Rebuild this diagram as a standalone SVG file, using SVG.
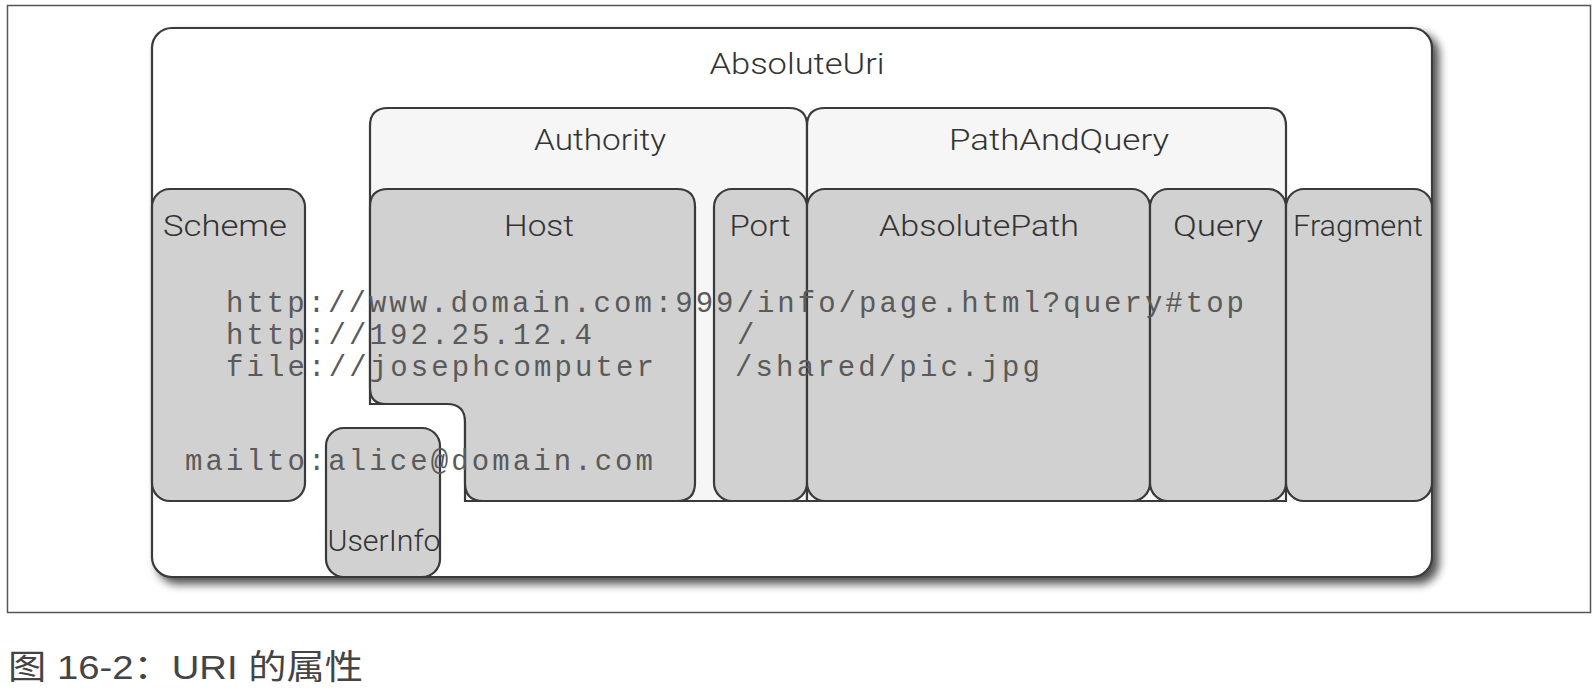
<svg xmlns="http://www.w3.org/2000/svg" width="1596" height="691" viewBox="0 0 1596 691">
<style>
.box{stroke:#3a3a3a;stroke-width:2.2}
.dark{fill:#d1d1d1}
.light{fill:#f6f6f6}
.lbl{font-family:Roboto,"Liberation Sans",Arial,sans-serif;font-weight:300;font-size:30px;fill:#333;text-anchor:middle}
.mono{font-family:"Liberation Mono","Courier New",monospace;font-size:29px;fill:#5a5a5a}
.cap{font-family:"Liberation Sans","Noto Sans CJK SC",sans-serif;font-size:34px;fill:#444}
</style>
<defs>
<filter id="sh" x="-5%" y="-5%" width="115%" height="120%">
<feGaussianBlur in="SourceAlpha" stdDeviation="5"/>
<feOffset dx="6" dy="6" result="b"/>
<feComponentTransfer><feFuncA type="linear" slope="0.7"/></feComponentTransfer>
<feMerge><feMergeNode/><feMergeNode in="SourceGraphic"/></feMerge>
</filter>
</defs>
<rect x="0" y="0" width="1596" height="691" fill="#fff"/>
<rect id="frame" x="7.5" y="5.5" width="1583" height="607" fill="none" stroke="#555" stroke-width="1.5"/>
<g id="absoluteuri">
<rect class="box" x="152" y="28" width="1280" height="549" rx="20" fill="#fff" filter="url(#sh)"/>
<text class="lbl" x="797" y="74" textLength="175" lengthAdjust="spacingAndGlyphs">AbsoluteUri</text>
</g>
<g id="authority">
<path class="box light" d="M370 404 V126 Q370 108 388 108 H789 Q807 108 807 126 V501 H465 V404 Z"/>
<text class="lbl" x="600" y="150" textLength="132" lengthAdjust="spacingAndGlyphs">Authority</text>
</g>
<g id="pathandquery">
<path class="box light" d="M807 501 V126 Q807 108 825 108 H1268 Q1286 108 1286 126 V501 Z"/>
<text class="lbl" x="1059" y="150" textLength="220" lengthAdjust="spacingAndGlyphs">PathAndQuery</text>
</g>
<g id="scheme">
<rect class="box dark" x="152" y="189" width="153" height="312" rx="18"/>
<text class="lbl" x="225" y="236" textLength="124" lengthAdjust="spacingAndGlyphs">Scheme</text>
</g>
<g id="host">
<path class="box dark" d="M388 189 H677 Q695 189 695 207 V483 Q695 501 677 501 H483 Q465 501 465 483 V422 Q465 404 447 404 H386 Q370 404 370 388 V207 Q370 189 388 189 Z"/>
<text class="lbl" x="539" y="236" textLength="70" lengthAdjust="spacingAndGlyphs">Host</text>
</g>
<g id="port">
<rect class="box dark" x="714" y="189" width="93" height="312" rx="18"/>
<text class="lbl" x="760" y="236" textLength="61" lengthAdjust="spacingAndGlyphs">Port</text>
</g>
<g id="absolutepath">
<rect class="box dark" x="807" y="189" width="343" height="312" rx="18"/>
<text class="lbl" x="979" y="236" textLength="200" lengthAdjust="spacingAndGlyphs">AbsolutePath</text>
</g>
<g id="query">
<rect class="box dark" x="1150" y="189" width="136" height="312" rx="18"/>
<text class="lbl" x="1218" y="236" textLength="90" lengthAdjust="spacingAndGlyphs">Query</text>
</g>
<g id="fragment">
<rect class="box dark" x="1286" y="189" width="146" height="312" rx="18"/>
<text class="lbl" x="1358" y="236" textLength="130" lengthAdjust="spacingAndGlyphs">Fragment</text>
</g>
<g id="userinfo">
<rect class="box dark" x="326" y="428" width="114" height="149" rx="18"/>
<text class="lbl" x="384" y="551" textLength="113" lengthAdjust="spacingAndGlyphs">UserInfo</text>
</g>
<g id="examples">
<text class="mono" x="226" y="312" textLength="1018" lengthAdjust="spacing">http://www.domain.com:999/info/page.html?query#top</text>
<text class="mono" x="226" y="344" textLength="366" lengthAdjust="spacing">http://192.25.12.4</text>
<text class="mono" x="737" y="344">/</text>
<text class="mono" x="226" y="376" textLength="428" lengthAdjust="spacing">file://josephcomputer</text>
<text class="mono" x="735" y="376" textLength="305" lengthAdjust="spacing">/shared/pic.jpg</text>
<text class="mono" x="185" y="470" textLength="468" lengthAdjust="spacing">mailto:alice@domain.com</text>
</g>
<g id="connectors"></g>
<text class="cap" x="8" y="679" textLength="355" lengthAdjust="spacingAndGlyphs">图 16-2：URI 的属性</text>
</svg>
